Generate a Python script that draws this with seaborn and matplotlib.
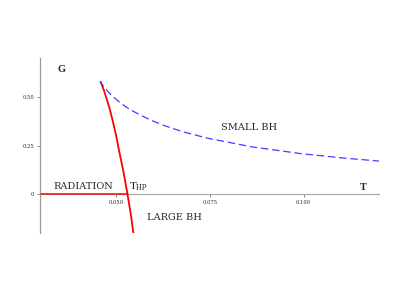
import matplotlib
matplotlib.use("Agg")
import matplotlib.pyplot as plt
import seaborn as sns
import pandas as pd

# Small black hole branch (dashed blue)
small_T = [0.1204, 0.1111, 0.0993, 0.0862, 0.0743, 0.0679, 0.0630, 0.0592,
           0.0562, 0.0537, 0.0518, 0.0503, 0.0491, 0.0481, 0.0474, 0.0467,
           0.0464, 0.0462, 0.0460, 0.0460, 0.0459]
small_G = [0.1695, 0.1846, 0.2082, 0.2431, 0.2880, 0.3204, 0.3516, 0.3813,
           0.4095, 0.4360, 0.4607, 0.4834, 0.5040, 0.5224, 0.5383, 0.5556,
           0.5625, 0.5681, 0.5741, 0.5764, 0.5774]
# Large black hole branch (solid red)
large_T = [0.0459, 0.0460, 0.0461, 0.0464, 0.0469, 0.0475, 0.0483, 0.0491,
           0.0500, 0.0509, 0.0520, 0.0531, 0.0540, 0.0547]
large_G = [0.5774, 0.5760, 0.5689, 0.5556, 0.5294, 0.4922, 0.4433, 0.3819,
           0.3076, 0.2196, 0.1173, 0.0000, -0.1051, -0.2025]
# Radiation branch
rad_T = [0.030, 0.0531]
rad_G = [0.0, 0.0]

x_ticks = [0.050, 0.075, 0.100]
x_ticklabels = ["0.050", "0.075", "0.100"]
y_ticks = [0.0, 0.25, 0.50]
y_ticklabels = ["0", "0.25", "0.50"]

sns.set_style("white")
plt.rcParams["font.family"] = ["DejaVu Serif", "Liberation Serif"]
plt.rcParams["mathtext.fontset"] = "stix"

fig = plt.figure(figsize=(4.07, 2.91), dpi=100)
ax = fig.add_axes([0.0983, 0.1993, 0.8330, 0.6014])

small = pd.DataFrame({"T": small_T, "G": small_G})
large = pd.DataFrame({"T": large_T, "G": large_G})
rad = pd.DataFrame({"T": rad_T, "G": rad_G})

sns.lineplot(data=rad, x="T", y="G", ax=ax, color="#dd2222", lw=1.2, sort=False, zorder=4)
sns.lineplot(data=large, x="T", y="G", ax=ax, color="#ff0000", lw=1.3, sort=False, zorder=5)
sns.lineplot(data=small, x="T", y="G", ax=ax, color="#4040ff", lw=0.9, sort=False,
             linestyle=(0, (6, 3)), zorder=5)

ax.set_xlim(0.0298, 0.1201)
ax.set_ylim(-0.20, 0.70)

for s in ["top", "right"]:
    ax.spines[s].set_visible(False)
ax.spines["bottom"].set_position(("data", 0))
ax.spines["left"].set_color("#999999")
ax.spines["bottom"].set_color("#aaaaaa")
ax.spines["left"].set_linewidth(0.9)
ax.spines["bottom"].set_linewidth(0.9)

ax.set_xticks(x_ticks)
ax.set_xticklabels(x_ticklabels)
ax.set_yticks(y_ticks)
ax.set_yticklabels(y_ticklabels)
ax.tick_params(axis="both", direction="out", length=2, width=0.6, color="#777777",
               labelsize=3.8, pad=2, bottom=True, left=True)
ax.set_xlabel("")
ax.set_ylabel("")

ax.text(0.0345, 0.64, "G", fontsize=7.5, fontweight="bold", ha="left", va="center",
        family="Liberation Serif")
ax.text(0.1151, 0.033, "T", fontsize=7.5, fontweight="bold", ha="left", va="center",
        family="Liberation Serif")
ax.text(0.0856, 0.34, "SMALL BH", fontsize=7, ha="center", va="center")
ax.text(0.0414, 0.040, "RADIATION", fontsize=7, ha="center", va="center")
ax.text(0.0535, 0.036, r"$\mathrm{T}_{\mathrm{HP}}$", fontsize=8, ha="left", va="center")
ax.text(0.0656, -0.119, "LARGE BH", fontsize=7, ha="center", va="center")

fig.savefig("out.png", dpi=100)
